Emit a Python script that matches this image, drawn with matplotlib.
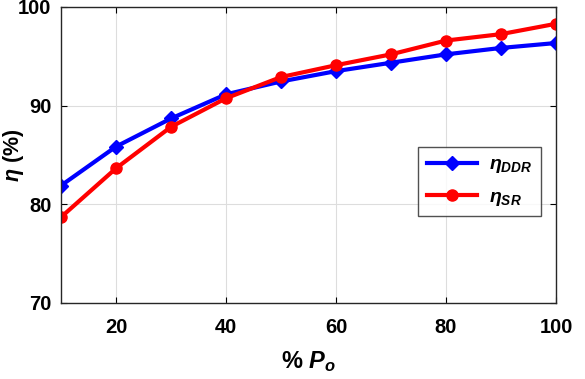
import matplotlib
matplotlib.use("Agg")
import matplotlib.pyplot as plt

plt.rcParams["font.family"] = ["Liberation Sans", "DejaVu Sans"]
plt.rcParams["mathtext.fontset"] = "custom"
plt.rcParams["mathtext.it"] = "Liberation Sans:italic:bold"
plt.rcParams["mathtext.rm"] = "Liberation Sans:bold"
plt.rcParams["mathtext.bf"] = "Liberation Sans:bold"

load_pct = [10, 20, 30, 40, 50, 60, 70, 80, 90, 100]
eta_ddr = [81.9, 85.85, 88.7, 91.15, 92.45, 93.5, 94.35, 95.2, 95.85, 96.35]
eta_sr = [78.7, 83.65, 87.85, 90.75, 92.9, 94.1, 95.2, 96.6, 97.25, 98.3]
x_ticks = [20, 40, 60, 80, 100]
y_ticks = [70, 80, 90, 100]

fig = plt.figure(figsize=(5.85, 3.79), dpi=100)
ax = fig.add_axes([61 / 585, 1 - 303 / 379, (556 - 61) / 585, (303 - 7) / 379])

ax.plot(load_pct, eta_ddr, color="#0000ff", marker="D", markersize=7,
        linewidth=3, label=r"$\eta_{DDR}$")
ax.plot(load_pct, eta_sr, color="#ff0000", marker="o", markersize=8,
        linewidth=3, label=r"$\eta_{SR}$")

ax.set_xlim(10, 100)
ax.set_ylim(70, 100)
ax.set_xticks(x_ticks)
ax.set_yticks(y_ticks)
ax.grid(True, color="#dddddd", linewidth=0.8)
ax.tick_params(direction="in", top=True, right=True, labelsize=14.5, length=4)
ax.tick_params(axis="x", pad=11)
ax.tick_params(axis="y", pad=7)
for lab in ax.get_xticklabels() + ax.get_yticklabels():
    lab.set_fontweight("bold")
for sp in ax.spines.values():
    sp.set_linewidth(1.0)
    sp.set_color("#262626")

ax.set_xlabel(r"% $P_o$", fontsize=17, fontweight="bold")
ax.xaxis.set_label_coords(0.5, -0.155)
ax.set_ylabel(r"$\eta$ (%)", fontsize=15.5, fontweight="bold")
ax.yaxis.set_label_coords(-0.071, 0.5)

leg = ax.legend(loc="center right", bbox_to_anchor=(0.982, 0.41), fontsize=14,
                frameon=True, fancybox=False, edgecolor="#262626",
                handlelength=2.6, handletextpad=0.6, borderpad=0.45,
                labelspacing=0.65, borderaxespad=0.3)
leg.get_frame().set_linewidth(1.0)

fig.savefig("out.png", dpi=100)
